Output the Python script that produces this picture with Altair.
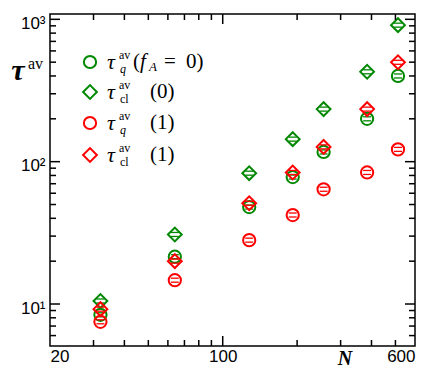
import altair as alt
import pandas as pd

# ---- data ----
N = [32, 64, 128, 192, 256, 384, 512]
tau_q_fA0 = [8.4, 21.5, 48.0, 78.0, 117.0, 200.0, 400.0]
tau_cl_fA0 = [10.5, 30.8, 83.0, 144.0, 234.0, 428.0, 910.0]
tau_q_fA1 = [7.5, 14.7, 28.1, 42.2, 64.0, 84.0, 122.0]
tau_cl_fA1 = [9.2, 20.0, 51.0, 84.0, 127.0, 234.0, 499.0]

series = [
    ("q0", tau_q_fA0, "#008800", "circle"),
    ("cl0", tau_cl_fA0, "#008800", "diamond"),
    ("q1", tau_q_fA1, "#ff0000", "circle"),
    ("cl1", tau_cl_fA1, "#ff0000", "diamond"),
]

x_major = [100]
x_minor = [30, 40, 50, 60, 70, 80, 90, 200, 300, 400, 500]
y_major = [10, 100, 1000]
y_minor = [6, 7, 8, 9, 20, 30, 40, 50, 60, 70, 80, 90,
           200, 300, 400, 500, 600, 700, 800, 900]

W, H = 365, 332
xs = alt.Scale(type="log", domain=[20, 600], nice=False)
ys = alt.Scale(type="log", domain=[5.07, 1090], nice=False)

xaxis = alt.Axis(
    values=[20, 100, 600], labelExpr="datum.value", ticks=False, domain=False,
    grid=False, title=None, labelFont="Liberation Sans", labelFontSize=17,
    labelColor="black", labelPadding=2)
yaxis = alt.Axis(
    values=[10, 100, 1000],
    labelExpr="datum.value == 10 ? '10¹' : (datum.value == 100 ? '10²' : '10³')",
    ticks=False, domain=False, grid=False, title=None,
    labelFont="Liberation Sans", labelFontSize=17, labelColor="black",
    labelPadding=5, labelOffset=4)

layers = []

# data markers with small inner error-bar caps
for name, vals, col, shp in series:
    d = pd.DataFrame({"N": N, "tau": vals})
    size = 150 if shp == "circle" else 190
    layers.append(alt.Chart(d).mark_point(shape=shp, filled=False, strokeWidth=2,
                                          size=size, color=col, opacity=1).encode(
        x=alt.X("N:Q", scale=xs, axis=xaxis), y=alt.Y("tau:Q", scale=ys, axis=yaxis)))
    for off in (-2, 2):
        layers.append(alt.Chart(d).mark_tick(orient="horizontal", size=8, thickness=1.3,
                                             color=col, yOffset=off, opacity=1).encode(
            x=alt.X("N:Q", scale=xs, axis=xaxis), y=alt.Y("tau:Q", scale=ys, axis=yaxis)))

# inward ticks on all four sides
def xticks(vals, length):
    d = pd.DataFrame({"v": vals})
    out = []
    for y0, y1 in ((H, H - length), (0, length)):
        out.append(alt.Chart(d).mark_rule(color="black", strokeWidth=1.5).encode(
            x=alt.X("v:Q", scale=xs, axis=xaxis), y=alt.value(y0), y2=alt.value(y1)))
    return out

def yticks(vals, length):
    d = pd.DataFrame({"v": vals})
    out = []
    for x0, x1 in ((0, length), (W, W - length)):
        out.append(alt.Chart(d).mark_rule(color="black", strokeWidth=1.5).encode(
            y=alt.Y("v:Q", scale=ys, axis=yaxis), x=alt.value(x0), x2=alt.value(x1)))
    return out

layers += xticks(x_major, 10) + xticks(x_minor, 6)
layers += yticks(y_major, 10) + yticks(y_minor, 6)

# text helper
def txt(s, x, y, size, style="normal", weight="normal", font="Liberation Serif",
        align="left", color="black"):
    return alt.Chart(pd.DataFrame({"t": [s]})).mark_text(
        font=font, fontSize=size, fontStyle=style, fontWeight=weight,
        align=align, baseline="middle", color=color).encode(
        x=alt.value(x), y=alt.value(y), text="t:N")

def marker(shape, color, x, y):
    size = 150 if shape == "circle" else 190
    return alt.Chart(pd.DataFrame({"t": [0]})).mark_point(
        shape=shape, filled=False, strokeWidth=2, size=size, color=color, opacity=1).encode(
        x=alt.value(x), y=alt.value(y))

# legend
legend_rows = [
    ("circle", "#008800", "q", "italic", 48),
    ("diamond", "#008800", "cl", "normal", 78),
    ("circle", "#ff0000", "q", "italic", 109),
    ("diamond", "#ff0000", "cl", "normal", 141),
]
for i, (shp, col, sub, sstyle, ry) in enumerate(legend_rows):
    layers.append(marker(shp, col, 40, ry))
    layers.append(txt("τ", 57, ry, 22, style="italic"))
    layers.append(txt("av", 69, ry - 7, 12))
    layers.append(txt(sub, 70, ry + 7, 12, style=sstyle))
    if i == 0:
        layers.append(txt("(", 83, ry, 21))
        layers.append(txt("f", 90, ry, 21, style="italic"))
        layers.append(txt("A", 99, ry + 5, 13, style="italic"))
        layers.append(txt("=", 114, ry, 21))
        layers.append(txt("0)", 136, ry, 21))
    else:
        layers.append(txt(["(0)", "(0)", "(1)", "(1)"][i], 100, ry, 21))

# axis titles
layers.append(txt("τ", -32, 57, 30, style="italic", weight="bold", align="center"))
layers.append(txt("av", -22, 50, 16))
layers.append(txt("N", 295, 345, 20, style="italic", weight="bold", align="center"))

chart = alt.layer(*layers).properties(
    width=W, height=H, autosize=alt.AutoSizeParams(type="none"),
    padding={"left": 42, "top": 6, "right": 19, "bottom": 24},
).configure_view(stroke="black", strokeWidth=1.5)

chart.save("out.html", embed_options={"renderer": "svg", "actions": False})
